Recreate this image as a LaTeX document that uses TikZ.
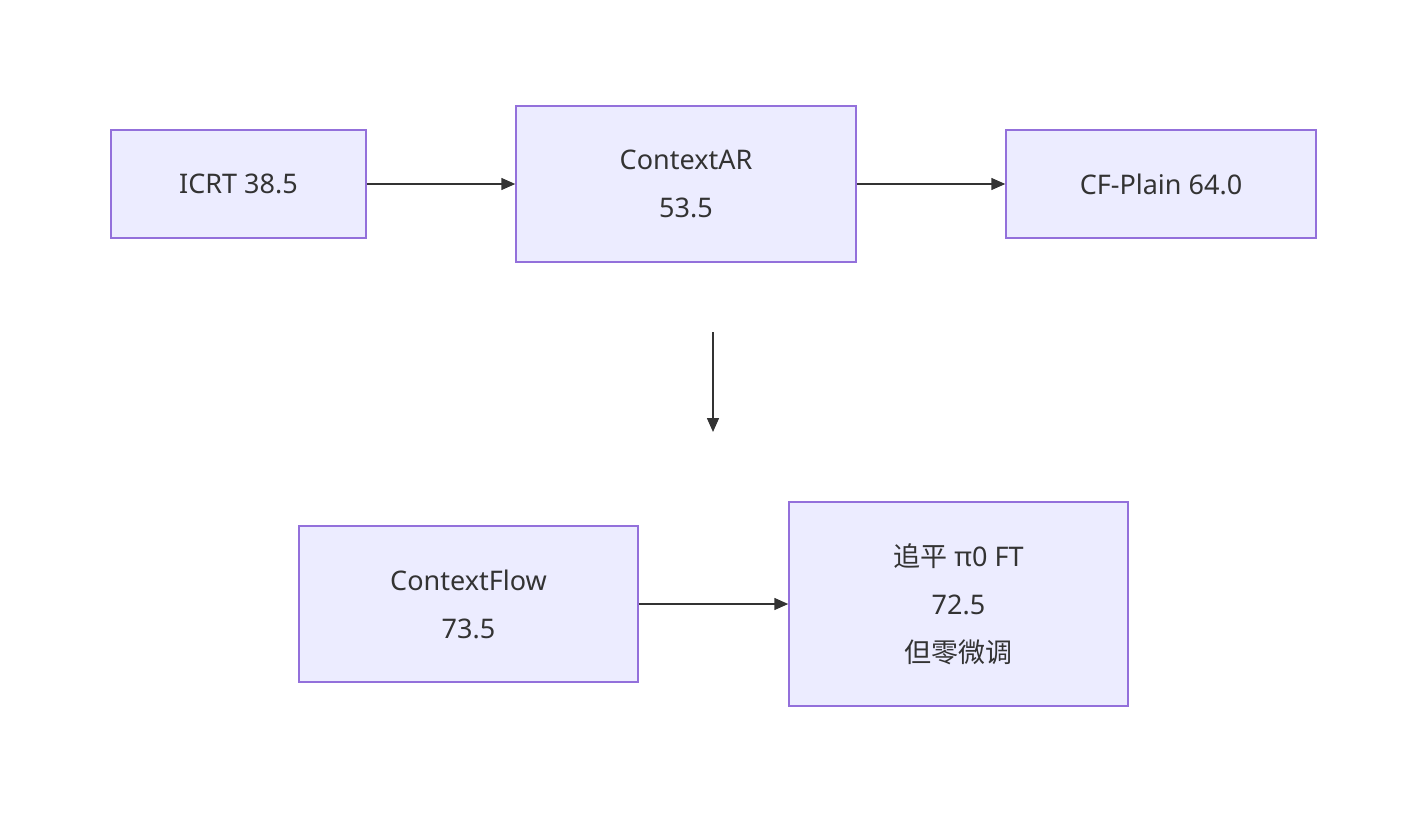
\documentclass[tikz,border=0pt]{standalone}
\usepackage{fontspec}
\setmainfont{Noto Sans}
\newfontfamily\cjk{Noto Sans CJK SC}
\usetikzlibrary{arrows.meta}
\definecolor{nodefill}{HTML}{ECECFF}
\definecolor{nodeline}{HTML}{9370DB}
\definecolor{edge}{HTML}{333333}
\begin{document}
\begin{tikzpicture}[x=1pt,y=-1pt,
  box/.style={draw=nodeline,fill=nodefill,line width=1.5pt,inner sep=0pt,align=center,
    font=\fontsize{27}{48}\selectfont,text=edge},
  arr/.style={draw=edge,line width=1.5pt,-{Triangle[length=14pt,width=12pt]}}]
\useasboundingbox (0,0) rectangle (1428,812);
\node[box,minimum width=255pt,minimum height=108pt] (icrt) at (238.5,184) {ICRT 38.5};
\node[box,minimum width=340pt,minimum height=156pt] (car) at (686,184) {ContextAR\\53.5};
\node[box,minimum width=310pt,minimum height=108pt] (cfp) at (1161,184) {CF-Plain 64.0};
\node[box,minimum width=339pt,minimum height=156pt] (cf) at (468.5,604) {ContextFlow\\73.5};
\node[box,minimum width=339pt,minimum height=204pt] (zp) at (958.5,604) {{\cjk 追平} π0 FT\\72.5\\{\cjk 但零微调}};
\coordinate (vs) at (713,332);
\coordinate (ve) at (713,432);
\draw[arr] (icrt) -- (car);
\draw[arr] (car) -- (cfp);
\draw[arr] (vs) -- (ve);
\draw[arr] (cf) -- (zp);
\end{tikzpicture}
\end{document}
